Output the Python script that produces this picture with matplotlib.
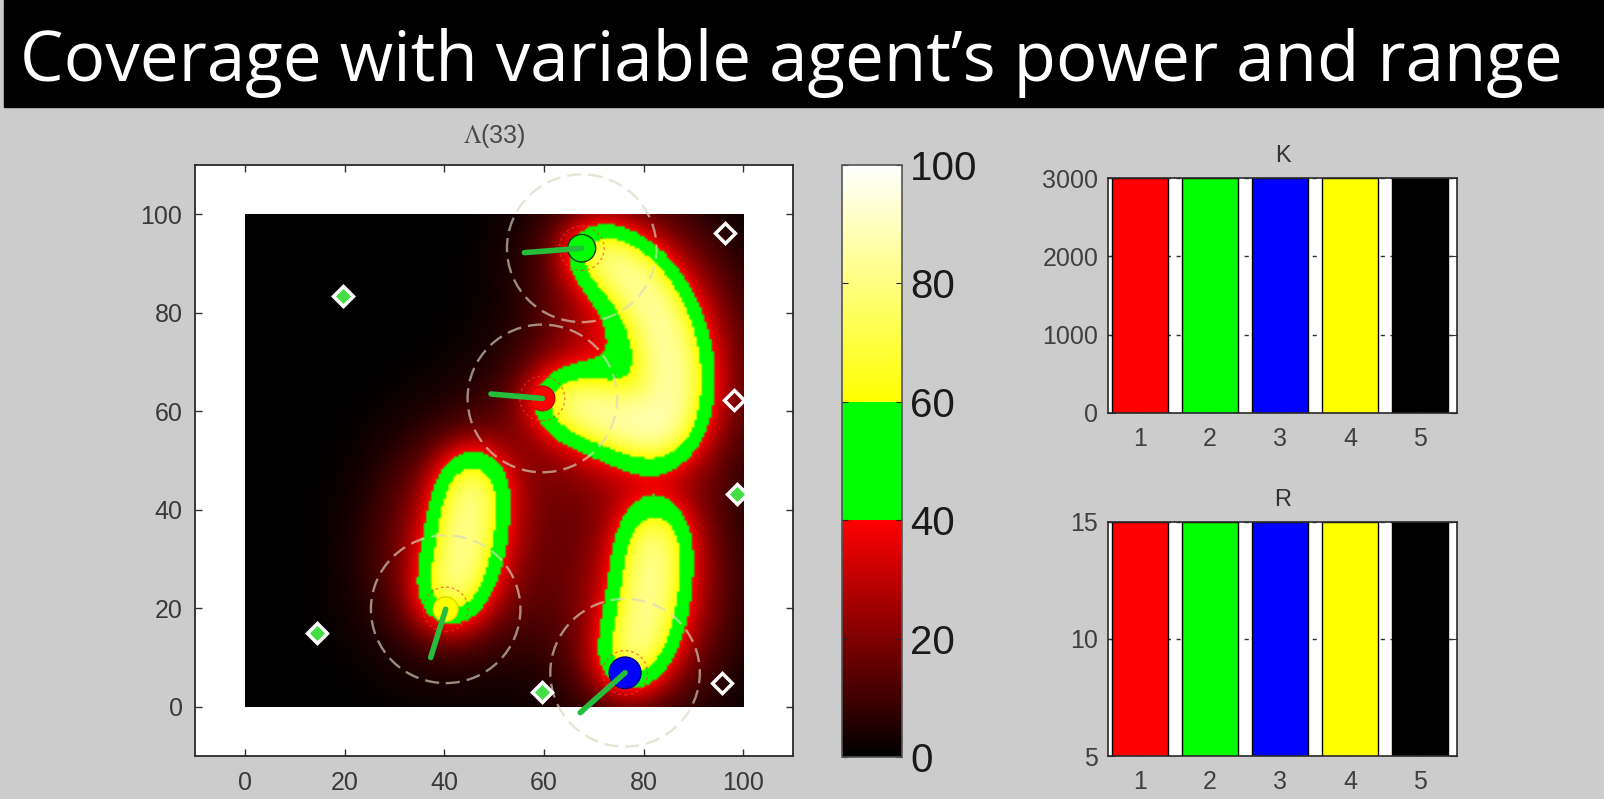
import numpy as np
import matplotlib
matplotlib.use('Agg')
import matplotlib.pyplot as plt
from matplotlib.colors import LinearSegmentedColormap
from matplotlib.patches import Circle, Rectangle

plt.rcParams['font.family'] = ['Liberation Sans', 'DejaVu Sans']
plt.rcParams['mathtext.fontset'] = 'stix'

title = "Coverage with variable agent\u2019s power and range"

# agents 1..5 : red, green, blue, yellow, black
agent_ids = [1, 2, 3, 4, 5]
agent_colors = ['#ff0000', '#00ff00', '#0000ff', '#ffff00', '#000000']
K_values = [3000, 3000, 3000, 3000, 3000]
R_values = [15, 15, 15, 15, 15]

# agent positions at step 33 (red, green, blue, yellow)
pos_x = [59.7, 67.6, 76.3, 40.3]
pos_y = [62.6, 93.1, 6.9, 19.8]
# end points of the heading segments
head_x = [49.4, 56.1, 67.3, 37.3]
head_y = [63.5, 92.2, -1.2, 10.0]

# paths already covered (oldest -> newest)
path_red_x = [84.5, 79, 72, 66, 61.5]
path_red_y = [54.5, 57, 59.5, 61.5, 62.6]
path_green_x = [85, 86, 85, 82.5, 78, 72.5, 68.5]
path_green_y = [57, 66, 74, 81, 87.5, 91.5, 93.1]
path_blue_x = [82.5, 82, 81, 78.5, 76.3]
path_blue_y = [38, 30, 20, 11, 6.9]
path_yellow_x = [45.8, 45, 43.5, 41.5, 40.3]
path_yellow_y = [48.5, 40, 30, 23, 19.8]

# points of interest (diamonds), visited ones are green
poi_x = [19.7, 14.5, 59.7, 98.7, 96.4, 98.2, 95.8]
poi_y = [83.5, 14.9, 3.0, 43.2, 96.2, 62.3, 4.8]
poi_visited = [True, True, True, True, False, False, False]

cbar_ticks = [0, 20, 40, 60, 80, 100]
map_ticks = [0, 20, 40, 60, 80, 100]

W, H = 1604, 799
fig = plt.figure(figsize=(W / 100, H / 100), dpi=100, facecolor='#cccccc')

# title band
fig.patches.append(Rectangle((4 / W, 1 - 107 / H), 1, 107 / H,
                             transform=fig.transFigure, color='black', zorder=0))
t = fig.text((20 + 1563) / 2 / W, 1 - 81 / H, title, color='white',
             family=['Open Sans', 'DejaVu Sans'], fontsize=50,
             ha='center', va='baseline')
fig.canvas.draw()
bb = t.get_window_extent()
t.set_fontsize(50 * 1543 / bb.width)

# coverage field: exposure accumulated along the paths, saturating at 100
gx = np.arange(0, 100.01, 0.5)
GX, GY = np.meshgrid(gx, gx)
expo = np.zeros_like(GX)
kernels = [(4.5, 1.25), (11.0, 0.48)]   # (width, strength)
ds = 0.25
paths = [(path_red_x, path_red_y), (path_green_x, path_green_y),
         (path_blue_x, path_blue_y), (path_yellow_x, path_yellow_y)]
for px, py in paths:
    px = np.asarray(px, float)
    py = np.asarray(py, float)
    s = np.concatenate([[0], np.cumsum(np.hypot(np.diff(px), np.diff(py)))])
    tt = np.arange(0, s[-1] + 1e-9, ds)
    for x0, y0 in zip(np.interp(tt, s, px), np.interp(tt, s, py)):
        r2 = (GX - x0) ** 2 + (GY - y0) ** 2
        for sg, k in kernels:
            expo += k * ds / (sg * np.sqrt(2 * np.pi)) * np.exp(-r2 / (2 * sg ** 2))
cover = 100 * (1 - np.exp(-expo))

cdict = {'red': [(0, 0, 0), (0.4, 1, 0), (0.6, 0, 1), (1, 1, 1)],
         'green': [(0, 0, 0), (0.4, 0, 1), (0.6, 1, 1), (1, 1, 1)],
         'blue': [(0, 0, 0), (0.6, 0, 0), (1, 1, 1)]}
cmap = LinearSegmentedColormap('cov', cdict, N=512)

ax = fig.add_axes([195 / W, 1 - 756 / H, 598 / W, 591 / H])
ax.set_facecolor('white')
im = ax.imshow(cover, extent=(0, 100, 0, 100), origin='lower', cmap=cmap,
               vmin=0, vmax=100, interpolation='bilinear', zorder=1)
ax.set_xlim(-10, 110)
ax.set_ylim(-10, 110)
ax.set_aspect('auto')
ax.set_xticks(map_ticks)
ax.set_yticks(map_ticks)
ax.tick_params(direction='in', length=5, width=1, color='#333333',
               top=True, right=True, labelsize=18, labelcolor='#3a3a3a')
ax.tick_params(axis='x', pad=11)
ax.tick_params(axis='y', pad=9)
for sp in ax.spines.values():
    sp.set_color('#2a2a2a')
    sp.set_linewidth(1.3)
ax.set_title(r'$\Lambda$(33)', fontsize=18, color='#4a4a4a', pad=16)

# sensing ranges and agents
edge_cols = ['#cc0000', '#0a400a', '#00008a', '#d8d800']
radii = [2.5, 2.8, 3.2, 2.5]
for i in range(4):
    ax.add_patch(Circle((pos_x[i], pos_y[i]), R_values[i], fill=False,
                        ec=(0.85, 0.85, 0.75), alpha=0.65, lw=1.7,
                        ls=(0, (6, 3)), zorder=4))
    ax.add_patch(Circle((pos_x[i], pos_y[i]), 4.5, fill=False, ec='#ff3030',
                        alpha=0.6, lw=1, ls=(0, (2, 2)), zorder=4))
    ax.add_patch(Circle((pos_x[i], pos_y[i]), radii[i], fc=agent_colors[i],
                        ec=edge_cols[i], lw=1, zorder=5))
    ax.plot([pos_x[i], head_x[i]], [pos_y[i], head_y[i]], color='#25bd3a',
            lw=4, solid_capstyle='round', zorder=6)

for x, y, v in zip(poi_x, poi_y, poi_visited):
    ax.plot(x, y, marker='D', ms=10, mec='white', mew=2.5,
            mfc='#44dd44' if v else 'none', zorder=7)

# colorbar
cax = fig.add_axes([842 / W, 1 - 757 / H, 60 / W, 592 / H])
cb = fig.colorbar(im, cax=cax, ticks=cbar_ticks)
cb.outline.set_edgecolor('#555555')
cb.outline.set_linewidth(1.2)
cax.tick_params(direction='in', length=4, color='#222222', left=True,
                right=True, labelsize=29, labelcolor='#1a1a1a', pad=6)


def bar_panel(rect, values, ylim, yticks, name):
    a = fig.add_axes(rect)
    a.set_facecolor('white')
    a.bar(agent_ids, values, width=0.8, color=agent_colors,
          edgecolor='black', lw=1, zorder=2)
    a.set_xlim(0.54, 5.53)
    a.set_ylim(*ylim)
    a.set_xticks(agent_ids)
    a.set_yticks(yticks)
    a.set_axisbelow(True)
    a.grid(axis='y', linestyle=(0, (3, 4)), color='#333333', lw=1)
    a.tick_params(direction='in', length=5, color='#333333', right=True,
                  labelsize=18, labelcolor='#404040')
    a.tick_params(axis='x', pad=10)
    a.tick_params(axis='y', pad=7)
    for sp in a.spines.values():
        sp.set_color('#2a2a2a')
        sp.set_linewidth(1.2)
    a.set_title(name, fontsize=17, color='#333333', pad=11.5)
    return a


bar_panel([1108 / W, 1 - 413 / H, 349 / W, 235 / H], K_values, (0, 3000),
          [0, 1000, 2000, 3000], 'K')
bar_panel([1108 / W, 1 - 756 / H, 349 / W, 234 / H], R_values, (5, 15),
          [5, 10, 15], 'R')

fig.savefig('out.png', dpi=100, facecolor=fig.get_facecolor())
